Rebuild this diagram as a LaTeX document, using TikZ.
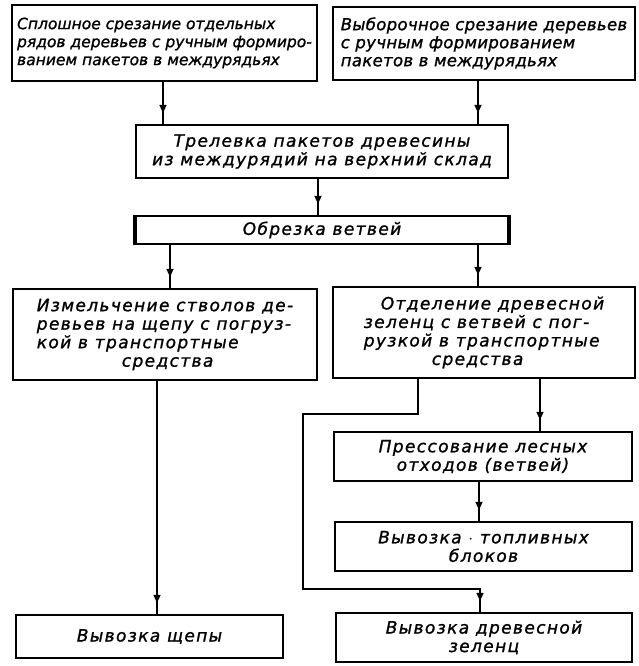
\documentclass[tikz,border=0pt]{standalone}
\usepackage{fontspec}
\setmainfont{DejaVu Sans}
\usetikzlibrary{arrows.meta, decorations.markings}

\begin{document}
\begin{tikzpicture}[x=1pt, y=-1pt,
    box/.style={draw, line width=2.2pt, inner sep=0pt,
      font=\fontsize{17}{18.5}\selectfont\itshape\addfontfeature{LetterSpace=8,FakeBold=1.2}},
    tight/.style={font=\fontsize{15.5}{18}\selectfont\itshape\addfontfeature{FakeBold=1.2}},
    flow/.style={line width=1.5pt, postaction={decorate},
      decoration={markings, mark=at position -11pt with {\arrow{Triangle[length=8pt,width=7pt]}}}}]
  \useasboundingbox[fill=white] (0,0) rectangle (639,666);

  % top row
  \node[box, tight, align=left, minimum width=305, minimum height=76] (cut) at (164.5, 43)
    {Сплошное срезание отдельных\\рядов деревьев с ручным формиро-\\ванием пакетов в междурядьях};
  \node[box, align=left, minimum width=302, minimum height=73,
    font=\fontsize{16.5}{18}\selectfont\itshape\addfontfeature{LetterSpace=2,FakeBold=1.2}] (select) at (484, 43.5)
    {Выборочное срезание деревьев\\с ручным формированием\\пакетов в междурядьях};

  \node[box, align=center, minimum width=372, minimum height=53] (skid) at (322, 151.5)
    {Трелевка пакетов древесины\\из междурядий на верхний склад};
  \node[box, minimum width=372, minimum height=28] (trim) at (322, 230) {Обрезка ветвей};
  \draw[line width=3.5pt] (trim.north west) -- (trim.south west);
  \draw[line width=3.5pt] (trim.north east) -- (trim.south east);

  % two branches
  \node[box, align=left, minimum width=304, minimum height=91] (chip) at (165, 334.5)
    {Измельчение стволов де-\\ревьев на щепу с погруз-\\кой в транспортные\\\hspace*{5em}средства};
  \node[box, align=left, minimum width=302, minimum height=91] (green) at (484, 332.5)
    {\hspace*{1em}Отделение древесной\\зеленц с ветвей с пог-\\рузкой в транспортные\\\hspace*{4em}средства};
  \node[box, align=center, minimum width=298, minimum height=49] (press) at (483, 456.5)
    {Прессование лесных\\отходов (ветвей)};
  \node[box, align=center, minimum width=297, minimum height=49] (fuel) at (483.5, 546.5)
    {Вывозка $\cdot$ топливных\\блоков};
  \node[box, minimum width=267, minimum height=43] (chipout) at (149.5, 636.5) {Вывозка щепы};
  \node[box, align=center, minimum width=296, minimum height=49] (greenout) at (484, 637.5)
    {Вывозка древесной\\зеленц};

  \coordinate (loopT) at (303, 414);
  \coordinate (loopB) at (303, 589);

  % connectors
  \draw[flow] (163,0 |- cut.south) -- (163,0 |- skid.north);
  \draw[flow] (478,0 |- select.south) -- (478,0 |- skid.north);
  \draw[flow] (318,0 |- skid.south) -- (318,0 |- trim.north);
  \draw[flow] (170,0 |- trim.south) -- (170,0 |- chip.north);
  \draw[flow] (478,0 |- trim.south) -- (478,0 |- green.north);
  \draw[flow] (157,0 |- chip.south) -- (157,0 |- chipout.north);
  \draw[flow] (540,0 |- green.south) -- (540,0 |- press.north);
  \draw[flow] (479,0 |- press.south) -- (479,0 |- fuel.north);
  \draw[flow] (418,0 |- green.south) |- (loopT) -- (loopB) -| (480,0 |- greenout.north);
\end{tikzpicture}
\end{document}
